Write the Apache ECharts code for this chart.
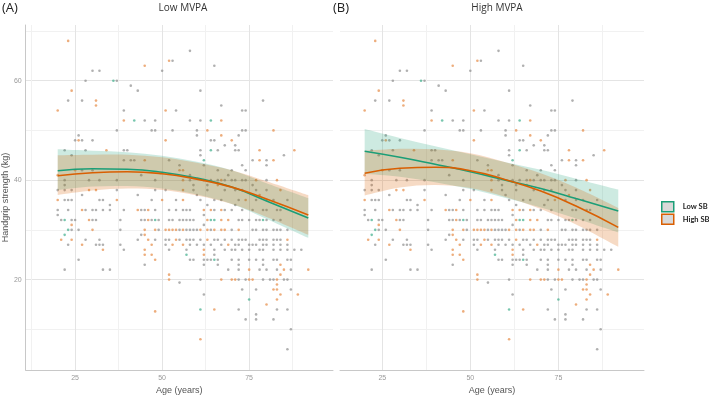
<!DOCTYPE html>
<html>
<head>
<meta charset="utf-8">
<script src="https://cdn.jsdelivr.net/npm/echarts@6/dist/echarts.min.js"></script>
<style>
  html, body { margin: 0; padding: 0; background: #fff; }
  #chart { width: 709px; height: 400px; }
</style>
</head>
<body>
<div id="chart"></div>
<script>
// scatter points [age, handgrip], same in both panels
const greyPts = [
  [58,66],[53,64],[65,63],[30,62],[32,62],[50,62],[28,60],[37,60],[41,59],[43,58],[61,58],
  [23,56],[27,56],[79,56],[67,55],[39,54],[54,54],[73,54],[74,54],[45,52],[48,52],[58,52],[61,52],
  [37,50],[47,50],[48,50],[53,50],[60,50],[73,50],[74,50],[26,49],[60,49],[72,49],
  [25,48],[27,48],[30,48],[64,48],[65,48],[68,47],[71,47],
  [22,46],[28,46],[39,46],[40,46],[61,46],[66,46],[71,46],[72,46],[24,45],[61,45],[85,45],
  [39,44],[41,44],[42,44],[52,44],[76,44],[80,44],[55,43],[62,43],[73,43],[80,43],
  [27,42],[30,42],[66,42],[70,42],[74,42],[44,41],[58,41],[69,41],
  [22,40],[29,40],[32,40],[37,40],[48,40],[58,40],[62,40],[64,40],[66,40],[68,40],[70,40],[71,40],[73,40],[74,40],[80,40],
  [22,39],[59,39],[63,39],[76,39],
  [20,38],[22,38],[24,38],[37,38],[48,38],[51,38],[59,38],[63,38],[68,38],[71,38],[73,38],[77,38],[80,38],
  [27,37],[43,37],[60,37],
  [22,36],[23,36],[24,36],[32,36],[33,36],[47,36],[54,36],[61,36],[65,36],[67,36],[72,36],[77,36],[80,36],[82,36],[86,36],
  [35,35],[63,35],[71,35],
  [20,34],[23,34],[28,34],[30,34],[31,34],[33,34],[35,34],[39,34],[44,34],[45,34],[48,34],[52,34],[54,34],[56,34],[57,34],
  [58,34],[65,34],[68,34],[70,34],[73,34],[76,34],[79,34],[80,34],[83,34],[84,34],
  [20,33],[62,33],
  [21,32],[24,32],[25,32],[30,32],[31,32],[38,32],[44,32],[45,32],[47,32],[49,32],[52,32],[53,32],[55,32],[56,32],[57,32],
  [58,32],[59,32],[72,32],[73,32],[75,32],[77,32],[78,32],[80,32],[82,32],[84,32],
  [62,31],
  [24,30],[26,30],[38,30],[49,30],[55,30],[57,30],[58,30],[59,30],[60,30],[64,30],[70,30],[76,30],[77,30],[79,30],[80,30],
  [82,30],[83,30],[84,30],[86,30],
  [44,29],
  [28,28],[32,28],[43,28],[48,28],[51,28],[52,28],[55,28],[57,28],[58,28],[59,28],[61,28],[65,28],[66,28],[68,28],[70,28],
  [72,28],[73,28],[74,28],[78,28],[79,28],[80,28],[82,28],[83,28],[84,28],
  [23,27],[31,27],[32,27],[33,27],[38,27],[51,27],[58,27],[60,27],[62,27],[64,27],[67,27],[71,27],[72,27],[75,27],[76,27],
  [77,27],[79,27],[80,27],[82,27],[84,27],[86,27],
  [39,26],[52,26],[57,26],[65,26],[68,26],[70,26],[71,26],[73,26],[75,26],[78,26],[79,26],[82,26],[84,26],[86,26],[88,26],[90,26],
  [65,25],
  [26,24],[58,24],[59,24],[62,24],[63,24],[64,24],[66,24],[70,24],[72,24],[75,24],[77,24],[79,24],[82,24],[83,24],[86,24],[87,24],
  [45,23],[62,23],[66,23],[72,23],[79,23],
  [22,22],[33,22],[35,22],[69,22],[72,22],[78,22],[80,22],[83,22],[87,22],
  [61,20],[72,20],[74,20],[79,20],[81,20],[82,20],[85,20],[86,20],[55,19.4],
  [73,18],[77,18],[87,18],[62,17],[72,14],[83,14],[86,14],[77,13],[74,12],[77,12],[82,12],[87,10],[86,6]
];
const greenPts = [
  [36,60],[42,52],[64,52],[64,46],[62,44],[22,32],[48,32],[64,32],[65,32],[79,32],
  [23,30],[22,29],[57,25],[65,24],[75,16],[61,14]
];
const orangePts = [
  [23,68],[52,64],[45,63],[24,58],[31,56],[31,55],[20,54],[51,54],[39,52],[67,52],[63,50],[82,50],[67,49],
  [26,48],[51,48],[70,48],[34,46],[78,46],[88,46],[45,44],[78,44],[82,44],[25,42],[55,42],[56,42],[20,41],
  [56,40],[67,40],[77,40],[83,40],[66,39],[29,38],[31,38],[56,38],[84,38],[78,37],
  [20,36],[37,36],[50,36],[56,36],[74,36],[27,34],[43,34],[46,34],[62,34],[64,34],[67,34],
  [29,32],[46,32],[63,32],[67,32],[69,32],[24,31],
  [30,30],[45,30],[48,30],[51,30],[52,30],[53,30],[54,30],[56,30],[61,30],[63,30],[65,30],[67,30],[68,30],[72,30],
  [45,29],[21,28],[24,28],[46,28],[54,28],[63,28],[86,28],[27,27],[47,27],[53,27],[56,27],[69,27],
  [33,26],[45,26],[62,26],[45,25],[47,25],[62,25],[48,24],[84,23],[75,22],[85,22],[92,22],[52,21],[84,21],
  [52,20],[67,20],[70,20],[71,20],[75,20],[76,20],[83,20],[83,19],[82,18],[83,18],[84,17],[89,17],
  [83,16],[80,15],[65,14],[48,13.6],[61,8]
];

// smooth fits with confidence bands, read at these ages
const fitAges = [20, 30, 40, 50, 60, 70, 80, 92];
// (A) Low MVPA
const aLowFit  = [41.9, 42.3, 42.2, 41.6, 40.4, 38.6, 35.8, 32.4];
const aLowLo   = [38.0, 38.7, 38.8, 38.3, 37.1, 35.2, 32.2, 28.4];
const aLowHi   = [46.2, 45.9, 45.6, 44.9, 43.7, 42.0, 39.4, 36.4];
const aHighFit = [40.9, 41.5, 41.7, 41.3, 40.2, 38.6, 36.2, 33.0];
const aHighLo  = [37.0, 37.9, 38.3, 38.0, 36.9, 35.2, 32.6, 29.0];
const aHighHi  = [45.0, 45.1, 45.1, 44.6, 43.5, 42.0, 39.8, 37.0];
// (B) High MVPA
const bLowFit  = [45.8, 44.6, 43.2, 41.7, 40.0, 38.3, 36.3, 33.8];
const bLowLo   = [41.3, 40.7, 39.6, 38.2, 36.4, 34.5, 32.3, 29.5];
const bLowHi   = [50.3, 48.5, 46.8, 45.2, 43.6, 42.1, 40.3, 38.1];
const bHighFit = [41.4, 42.4, 42.6, 41.9, 40.1, 37.8, 34.8, 30.5];
const bHighLo  = [36.9, 38.5, 39.0, 38.4, 36.6, 34.2, 31.1, 26.6];
const bHighHi  = [45.9, 46.3, 46.2, 45.4, 43.6, 41.4, 38.5, 34.4];

const xMajor = [25, 50, 75];
const xMinor = [12.5, 37.5, 62.5, 87.5];
const yMajor = [20, 40, 60];
const yMinor = [10, 30, 50, 70];

const GREEN = '#1b9e77';
const ORANGE = '#d95f02';
const labelFont = 'Liberation Sans';

const chart = echarts.init(document.getElementById('chart'));

function xAxesFor(grid, min, max) {
  return [
    {
      type: 'value', gridIndex: grid, min: min, max: max, position: 'bottom',
      name: 'Age (years)', nameLocation: 'middle', nameGap: 14,
      nameTextStyle: { fontSize: 9, color: '#555', fontFamily: labelFont },
      axisLine: { show: true, onZero: false, lineStyle: { color: '#c8c8c8', width: 1 } },
      axisTick: { show: false, customValues: xMajor },
      axisLabel: { customValues: xMajor, margin: 4, fontSize: 7, color: '#999', fontFamily: labelFont },
      splitLine: { show: true, lineStyle: { color: '#e4e4e4', width: 1 } }
    },
    {
      type: 'value', gridIndex: grid, min: min, max: max, position: 'top',
      axisLine: { show: false }, axisTick: { show: false, customValues: xMinor },
      axisLabel: { show: false },
      splitLine: { show: true, lineStyle: { color: '#f1f1f1', width: 1 } }
    }
  ];
}

function yAxesFor(grid, withLabels) {
  return [
    {
      type: 'value', gridIndex: grid, min: 1.8, max: 71.2, position: 'left',
      name: withLabels ? 'Handgrip strength (kg)' : '', nameLocation: 'middle', nameGap: 14,
      nameTextStyle: { fontSize: 9, color: '#555', fontFamily: labelFont },
      axisLine: { show: withLabels, onZero: false, lineStyle: { color: '#c8c8c8', width: 1 } },
      axisTick: { show: false, customValues: yMajor },
      axisLabel: { show: withLabels, customValues: yMajor, margin: 4, fontSize: 7, color: '#999', fontFamily: labelFont },
      splitLine: { show: true, lineStyle: { color: '#e4e4e4', width: 1 } }
    },
    {
      type: 'value', gridIndex: grid, min: 1.8, max: 71.2, position: 'right',
      axisLine: { show: false }, axisTick: { show: false, customValues: yMinor },
      axisLabel: { show: false },
      splitLine: { show: true, lineStyle: { color: '#f1f1f1', width: 1 } }
    }
  ];
}

function pairs(vals) {
  return fitAges.map((a, i) => [a, vals[i]]);
}

// cubic spline through pixel points (continues a path already at pts[0])
function splineTo(pts) {
  let d = '';
  for (let i = 0; i < pts.length - 1; i++) {
    const p0 = pts[Math.max(i - 1, 0)], p1 = pts[i], p2 = pts[i + 1];
    const p3 = pts[Math.min(i + 2, pts.length - 1)];
    const c1 = [p1[0] + (p2[0] - p0[0]) / 6, p1[1] + (p2[1] - p0[1]) / 6];
    const c2 = [p2[0] - (p3[0] - p1[0]) / 6, p2[1] - (p3[1] - p1[1]) / 6];
    d += ' C' + c1.join(',') + ' ' + c2.join(',') + ' ' + p2.join(',');
  }
  return d;
}

function panelSeries(grid, lowFit, lowLo, lowHi, highFit, highLo, highHi) {
  const ax = { xAxisIndex: grid * 2, yAxisIndex: grid * 2 };
  const pts = (data, color) => Object.assign({
    type: 'scatter', data: data, symbolSize: 2.6, silent: true, z: 1,
    itemStyle: { color: color, opacity: 0.7 }
  }, ax);
  const band = (lo, hi, color) => Object.assign({
    type: 'custom', silent: true, z: 2,
    data: fitAges.map((a, i) => [a, lo[i], hi[i]]),
    encode: { x: 0, y: [1, 2] },
    renderItem: function (params, api) {
      if (params.dataIndex !== 0) return;
      const top = fitAges.map((a, i) => api.coord([a, hi[i]]));
      const bot = fitAges.map((a, i) => api.coord([a, lo[i]])).reverse();
      const d = 'M' + top[0].join(',') + splineTo(top) +
        ' L' + bot[0].join(',') + splineTo(bot) + ' Z';
      return { type: 'path', shape: { pathData: d }, style: { fill: color } };
    }
  }, ax);
  const fit = (name, vals, color) => Object.assign({
    type: 'line', name: name, smooth: true, symbol: 'none', silent: true, z: 4,
    lineStyle: { color: color, width: 1.6 }, itemStyle: { color: color },
    data: pairs(vals)
  }, ax);
  return [
    pts(greyPts, '#8f8f8f'),
    pts(greenPts, '#3fae8c'),
    pts(orangePts, '#e58a45'),
    band(lowLo, lowHi, 'rgba(27,158,119,0.22)'),
    band(highLo, highHi, 'rgba(217,95,2,0.23)'),
    fit('Low SB', lowFit, GREEN),
    fit('High SB', highFit, ORANGE)
  ];
}

chart.setOption({
  animation: false,
  backgroundColor: '#fff',
  grid: [
    { left: 21, top: 25, width: 312, height: 354 },
    { left: 340, top: 25, width: 304, height: 354 }
  ],
  xAxis: [...xAxesFor(0, 10.8, 99.1), ...xAxesFor(1, 13.0, 99.3)],
  yAxis: [...yAxesFor(0, true), ...yAxesFor(1, false)],
  legend: {
    orient: 'vertical', left: 656, top: 196, itemWidth: 12, itemHeight: 10, itemGap: 1,
    selectedMode: false,
    textStyle: { fontSize: 7.5, fontWeight: 'bold', color: '#222', fontFamily: 'Lato', padding: [0, 0, 0, 4] },
    data: [
      { name: 'Low SB', icon: 'rect', itemStyle: { color: '#d9d9d9', borderColor: GREEN, borderWidth: 1.5 } },
      { name: 'High SB', icon: 'rect', itemStyle: { color: '#d9d9d9', borderColor: ORANGE, borderWidth: 1.5 } }
    ]
  },
  graphic: [
    { type: 'text', x: 2, y: 8, style: { text: '(A)', fontSize: 13, fill: '#222', fontFamily: 'Open Sans', verticalAlign: 'middle' } },
    { type: 'text', x: 183, y: 8, style: { text: 'Low MVPA', fontSize: 10, fill: '#333', fontFamily: 'Open Sans', align: 'center', verticalAlign: 'middle' } },
    { type: 'text', x: 333, y: 8, style: { text: '(B)', fontSize: 13, fill: '#222', fontFamily: 'Open Sans', verticalAlign: 'middle' } },
    { type: 'text', x: 497, y: 8, style: { text: 'High MVPA', fontSize: 10, fill: '#333', fontFamily: 'Open Sans', align: 'center', verticalAlign: 'middle' } }
  ],
  series: [
    ...panelSeries(0, aLowFit, aLowLo, aLowHi, aHighFit, aHighLo, aHighHi),
    ...panelSeries(1, bLowFit, bLowLo, bLowHi, bHighFit, bHighLo, bHighHi)
  ]
});
</script>
</body>
</html>
